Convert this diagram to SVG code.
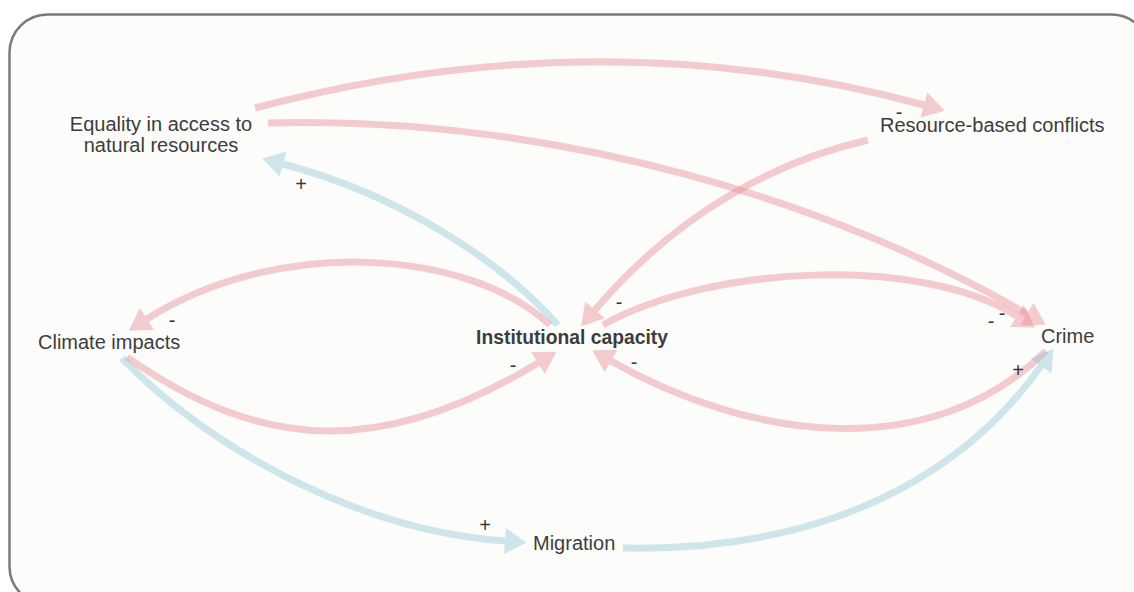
<svg xmlns="http://www.w3.org/2000/svg" width="1134" height="592" viewBox="0 0 1134 592">
<style>
.node text{font-family:"Liberation Sans",Arial,sans-serif;font-size:20px;fill:#3d3d3d}
.pol{font-family:"Liberation Sans",Arial,sans-serif;font-size:20px;fill:#3a3a3a;text-anchor:middle}
.neg{fill:none;stroke:rgb(230,130,140);stroke-opacity:0.4;stroke-width:7}
.pos{fill:none;stroke:rgb(140,195,215);stroke-opacity:0.4;stroke-width:7}
.neg{marker-end:url(#ahNeg)}
.pos{marker-end:url(#ahPos)}
</style>
<defs>
<marker id="ahNeg" markerUnits="userSpaceOnUse" markerWidth="24" markerHeight="28" viewBox="0 -13 22 26" refX="0" refY="0" orient="auto" overflow="visible">
<path d="M0,-12 L20,0 L0,12 z" fill="rgb(230,130,140)" fill-opacity="0.4"/>
</marker>
<marker id="ahPos" markerUnits="userSpaceOnUse" markerWidth="24" markerHeight="28" viewBox="0 -13 22 26" refX="0" refY="0" orient="auto" overflow="visible">
<path d="M0,-12 L20,0 L0,12 z" fill="rgb(140,195,215)" fill-opacity="0.4"/>
</marker>
</defs>
<rect x="0" y="0" width="1134" height="592" fill="#ffffff"/>
<rect x="9.5" y="14.5" width="1140" height="590" rx="38" fill="#fcfcfa" stroke="#7a7a7a" stroke-width="2.5"/>
<g id="connectors">
<path class="neg" d="M255,108 Q600,17 924,105"/>
<path class="neg" d="M268,123 C560,115 840,205 1027,314"/>
<path class="neg" d="M868,140 C780,160 680,210 595,310"/>
<path class="pos" d="M558,325 C500,260 400,195 283,164"/>
<path class="neg" d="M550,325 C470,250 280,235 147,319"/>
<path class="neg" d="M127,357 C262,452 383,457 538,363"/>
<path class="neg" d="M603,325 C710,265 920,255 1017,316"/>
<path class="neg" d="M1046,351 C930,465 750,440 611,361"/>
<path class="pos" d="M122,358 C200,440 350,530 505,541"/>
<path class="pos" d="M623,548 C820,552 960,480 1041,366"/>
<text class="pol" x="899" y="119">-</text>
<text class="pol" x="301" y="191">+</text>
<text class="pol" x="172" y="327">-</text>
<text class="pol" x="513" y="372">-</text>
<text class="pol" x="619" y="309">-</text>
<text class="pol" x="634" y="369">-</text>
<text class="pol" x="991" y="328">-</text>
<text class="pol" x="1002" y="320">-</text>
<text class="pol" x="1018" y="377">+</text>
<text class="pol" x="485" y="532">+</text>
</g>
<g id="node-equality" class="node">
<text x="161" y="131" text-anchor="middle">Equality in access to</text>
<text x="161" y="152" text-anchor="middle">natural resources</text>
</g>
<g id="node-conflicts" class="node"><text x="880" y="132">Resource-based conflicts</text></g>
<g id="node-climate" class="node"><text x="38" y="349">Climate impacts</text></g>
<g id="node-institutional" class="node"><text x="572" y="344" text-anchor="middle" font-weight="bold" style="font-size:19.3px">Institutional capacity</text></g>
<g id="node-crime" class="node"><text x="1041" y="343">Crime</text></g>
<g id="node-migration" class="node"><text x="533" y="550">Migration</text></g>
</svg>
